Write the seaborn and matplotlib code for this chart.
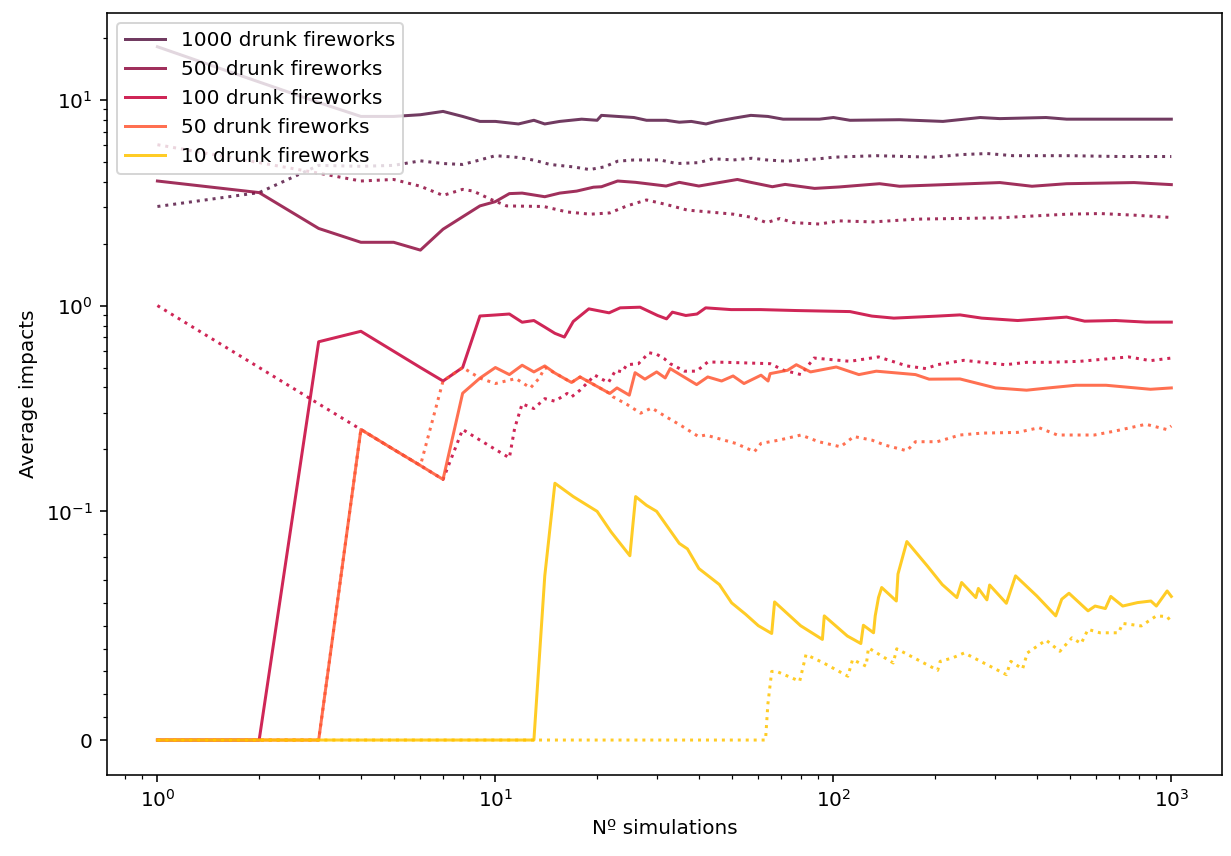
import matplotlib
matplotlib.use("Agg")
import matplotlib.pyplot as plt
import matplotlib.ticker as mticker
import seaborn as sns

# running averages (x = number of simulations)
labels = ['1000 drunk fireworks', '500 drunk fireworks', '100 drunk fireworks',
          '50 drunk fireworks', '10 drunk fireworks']
colors = ['#581845', '#900C3F', '#C70039', '#FF5733', '#FFC300']

x1000_solid = [1, 2, 3, 4, 5, 6, 7, 8, 9, 10, 11.7, 13, 14, 15.5, 18, 20, 20.6, 23, 25.7, 28, 32, 35,
               38, 42, 45, 51, 57, 64, 71, 91, 100, 112, 157, 211, 272, 311, 426, 490, 1000]
y1000_solid = [18.1, 12.2, 9.7, 8.3, 8.3, 8.46, 8.78, 8.3, 7.85, 7.85, 7.63, 7.95, 7.63, 7.85, 8.05, 7.95,
               8.4, 8.3, 8.2, 7.95, 7.95, 7.78, 7.85, 7.63, 7.85, 8.15, 8.4, 8.3, 8.05, 8.05, 8.2, 7.95,
               8.0, 7.85, 8.2, 8.1, 8.2, 8.05, 8.05]
x1000_dot = [1, 2, 3, 4, 5, 6, 7, 8, 9, 10, 11.6, 13, 14.5, 17, 19, 21, 23, 25.7, 30.7, 34.4, 40, 44,
             50.6, 57.5, 63.6, 72.6, 91, 100, 134, 196, 242, 285, 340, 500, 700, 1000]
y1000_dot = [3.03, 3.54, 4.8, 4.75, 4.8, 5.05, 4.9, 4.85, 5.1, 5.35, 5.25, 5.09, 4.85, 4.72, 4.58, 4.72,
             5.03, 5.1, 5.1, 4.9, 4.95, 5.17, 5.1, 5.2, 5.1, 5.03, 5.17, 5.26, 5.35, 5.26, 5.42, 5.48,
             5.35, 5.35, 5.3, 5.3]

x500_solid = [1, 2, 3, 4, 5, 6, 7, 8, 9, 10, 11, 12, 14, 15.5, 17.4, 19.5, 20.6, 23, 26, 32, 35, 40,
              52, 57, 66, 72, 88, 104, 137, 157, 196, 311, 387, 490, 776, 1000]
y500_solid = [4.03, 3.54, 2.37, 2.03, 2.03, 1.86, 2.35, 2.7, 3.05, 3.2, 3.5, 3.52, 3.38, 3.52, 3.6, 3.76,
              3.78, 4.03, 3.97, 3.81, 3.97, 3.81, 4.1, 3.97, 3.78, 3.88, 3.71, 3.77, 3.91, 3.8, 3.85,
              3.96, 3.8, 3.91, 3.96, 3.87]
x500_dot = [1, 2, 3, 4, 5, 6, 7, 8, 8.6, 9.7, 10.8, 13.9, 16.3, 19.1, 21.8, 24.5, 28, 32, 37, 45, 50.6,
            57.6, 63.5, 69.5, 76, 91, 104, 131, 176, 311, 490, 617, 776, 1000]
y500_dot = [6.05, 4.95, 4.4, 4.03, 4.1, 3.8, 3.43, 3.67, 3.6, 3.28, 3.05, 3.03, 2.85, 2.78, 2.82, 3.05,
            3.26, 3.1, 2.91, 2.83, 2.78, 2.68, 2.53, 2.65, 2.53, 2.49, 2.58, 2.55, 2.63, 2.67, 2.78,
            2.8, 2.75, 2.68]

x100_solid = [1, 2, 3, 4, 5, 6, 7, 8, 9, 10, 11, 12, 13, 14, 15, 16, 17, 18.9, 21.7, 23.4, 26.8, 30.2,
              32.1, 33.4, 36.6, 39.5, 41.9, 49.8, 61, 77.7, 112, 130, 151, 203, 237, 275, 351, 490,
              554, 684, 841, 1000]
y100_solid = [0, 0, 0.667, 0.75, 0.6, 0.5, 0.43, 0.5, 0.89, 0.9, 0.91, 0.83, 0.846, 0.786, 0.733, 0.703,
              0.837, 0.964, 0.922, 0.975, 0.982, 0.895, 0.862, 0.929, 0.895, 0.91, 0.975, 0.956, 0.956,
              0.946, 0.935, 0.889, 0.869, 0.889, 0.901, 0.869, 0.846, 0.879, 0.84, 0.846, 0.831, 0.831]
x100_dot = [1, 2, 3, 4, 5, 6, 7, 8, 9, 10, 11, 11.4, 12, 13, 14, 15, 16.3, 16.8, 17.8, 19.7, 20.6, 21.6,
            22.7, 23.7, 24.5, 26.5, 28.5, 30, 31.6, 32.9, 36.3, 39.4, 42.5, 48.2, 65, 71.3, 80.2, 87.7,
            112, 136, 165, 188, 203, 243, 323, 373, 433, 537, 747, 868, 1000]
y100_dot = [1.0, 0.5, 0.333, 0.25, 0.2, 0.167, 0.143, 0.25, 0.222, 0.2, 0.182, 0.253, 0.333, 0.316,
            0.353, 0.343, 0.374, 0.36, 0.388, 0.459, 0.44, 0.423, 0.485, 0.476, 0.516, 0.522, 0.59,
            0.58, 0.552, 0.522, 0.48, 0.48, 0.532, 0.53, 0.522, 0.485, 0.462, 0.556, 0.536, 0.563,
            0.509, 0.494, 0.516, 0.542, 0.516, 0.53, 0.53, 0.536, 0.563, 0.54, 0.556]

x50_solid = [1, 2, 3, 4, 5, 6, 7, 8, 9, 10, 11, 12, 13, 14, 15, 16.8, 17.8, 21.8, 22.9, 24.9, 25.9, 27.7,
             30, 31.8, 32.9, 39.4, 42.5, 46.7, 50.5, 54.4, 61.1, 64.1, 65, 73.2, 77.7, 85.6, 102, 119,
             134, 175, 192, 237, 302, 373, 433, 522, 641, 868, 1000]
y50_solid = [0, 0, 0, 0.25, 0.2, 0.167, 0.143, 0.375, 0.444, 0.5, 0.462, 0.513, 0.476, 0.509, 0.47,
             0.423, 0.45, 0.374, 0.398, 0.367, 0.472, 0.439, 0.476, 0.445, 0.494, 0.413, 0.45, 0.43,
             0.455, 0.418, 0.459, 0.43, 0.467, 0.485, 0.516, 0.476, 0.503, 0.462, 0.48, 0.462, 0.439,
             0.44, 0.398, 0.388, 0.398, 0.41, 0.41, 0.392, 0.398]
x50_dot = [1, 2, 3, 4, 5, 6, 7, 8, 9, 10, 11.5, 12.7, 13.5, 14, 15, 16.8, 17.8, 21.8, 22.3, 24.5, 26.9,
           29, 32, 35.2, 39.9, 41.9, 51.4, 58.4, 61.1, 69.1, 80.2, 90.5, 105, 115, 130, 142, 165, 175,
           203, 237, 275, 351, 406, 460, 592, 684, 841, 968, 1000]
y50_dot = [0, 0, 0, 0.25, 0.2, 0.167, 0.43, 0.5, 0.444, 0.418, 0.442, 0.398, 0.445, 0.5, 0.47, 0.423,
           0.45, 0.374, 0.36, 0.331, 0.3, 0.318, 0.288, 0.263, 0.231, 0.235, 0.214, 0.195, 0.214,
           0.222, 0.235, 0.218, 0.206, 0.231, 0.222, 0.21, 0.197, 0.218, 0.218, 0.235, 0.24, 0.242,
           0.255, 0.235, 0.235, 0.246, 0.265, 0.25, 0.26]

x10_solid = [1, 13, 14, 15, 17, 20, 22, 25, 26, 28, 30, 35, 37, 40, 46, 50, 55, 60, 65.7, 67, 80, 92.8,
             94, 110, 120.6, 122.7, 131.5, 133, 136, 139, 153.6, 155.3, 165, 190, 210, 232, 239.6,
             264, 268.6, 284.7, 290, 325, 346, 400, 455, 474, 498, 567, 595, 638, 662, 718, 794, 870,
             903, 972, 1000]
y10_solid = [0, 0, 0.0718, 0.137, 0.118, 0.1, 0.091, 0.0806, 0.118, 0.107, 0.1, 0.086, 0.0836, 0.075,
             0.068, 0.06, 0.055, 0.05, 0.0466, 0.0604, 0.05, 0.044, 0.0543, 0.0455, 0.0422, 0.0502,
             0.0469, 0.0543, 0.0623, 0.0667, 0.0608, 0.0726, 0.0868, 0.076, 0.068, 0.0623, 0.0689,
             0.0623, 0.0663, 0.0613, 0.0678, 0.0598, 0.0718, 0.063, 0.0543, 0.0616, 0.0642, 0.0565,
             0.0586, 0.0575, 0.0628, 0.0586, 0.0601, 0.0608, 0.0586, 0.0652, 0.0628]
x10_dot = [1, 63, 64, 65.7, 68, 79.5, 83, 93.6, 110.4, 114, 125, 127, 150.4, 154, 203.6, 207, 225,
           244, 325, 335, 363, 375, 426, 468, 508, 541, 567, 615, 698, 718, 815, 903, 972, 1000]
y10_dot = [0, 0, 0.0156, 0.03, 0.03, 0.0257, 0.0374, 0.0337, 0.0279, 0.0352, 0.0323, 0.0403, 0.0337,
           0.0399, 0.0305, 0.0344, 0.0359, 0.0381, 0.0286, 0.0344, 0.0311, 0.0381, 0.0437, 0.0388,
           0.0447, 0.0422, 0.0484, 0.0469, 0.0469, 0.051, 0.0499, 0.0543, 0.054, 0.0516]

solid = [(x1000_solid, y1000_solid), (x500_solid, y500_solid), (x100_solid, y100_solid),
         (x50_solid, y50_solid), (x10_solid, y10_solid)]
dotted = [(x1000_dot, y1000_dot), (x500_dot, y500_dot), (x100_dot, y100_dot),
          (x50_dot, y50_dot), (x10_dot, y10_dot)]

fig, ax = plt.subplots(figsize=(1231 / 144, 856 / 144), dpi=144)
fig.subplots_adjust(left=0.0867, right=0.9927, bottom=0.0946, top=0.9844)

for i in range(len(labels)):
    xs, ys = solid[i]
    sns.lineplot(x=xs, y=ys, color=colors[i], alpha=0.85, linewidth=1.5,
                 label=labels[i], ax=ax)
    xd, yd = dotted[i]
    sns.lineplot(x=xd, y=yd, color=colors[i], alpha=0.85, linewidth=1.5,
                 linestyle=':', legend=False, ax=ax)

ax.set_xscale('log')
ax.set_yscale('symlog', linthresh=0.1)
ax.set_ylim(-0.0153, 26.3)
# minor ticks: linear steps below the threshold, log steps above it
minor = [k / 100 for k in range(1, 10)] + [k / 10 for k in range(2, 10)] + \
        [float(k) for k in range(2, 10)] + [20.0]
ax.yaxis.set_minor_locator(mticker.FixedLocator(minor))
ax.set_xlabel('Nº simulations')
ax.set_ylabel('Average impacts')
ax.legend(loc='upper left')

plt.savefig('out.png', dpi=144)
